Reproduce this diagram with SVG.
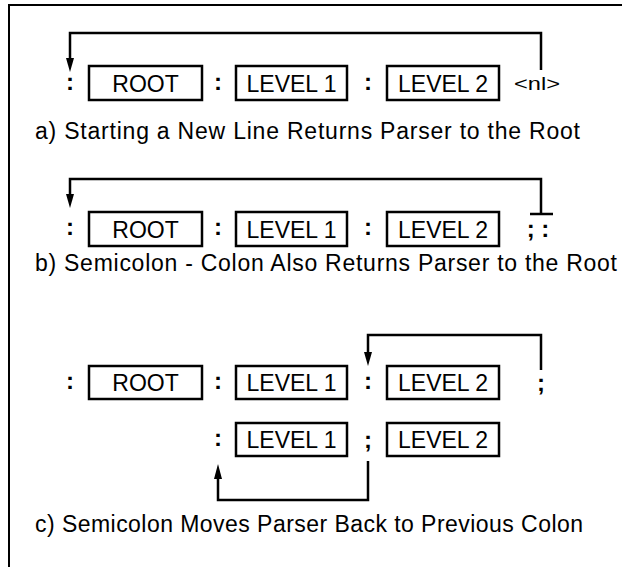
<svg xmlns="http://www.w3.org/2000/svg" width="622" height="567" viewBox="0 0 622 567">
<style>
.box{fill:#fff;stroke:#000;stroke-width:2.5}
.ln{fill:none;stroke:#000;stroke-width:2.5}
.lbl{font-family:"Liberation Sans",Arial,sans-serif;font-size:23px;text-anchor:middle;fill:#000}
.pn{font-family:"Liberation Sans",Arial,sans-serif;font-size:24px;font-weight:bold;text-anchor:middle;fill:#000}
.nl{font-family:"Liberation Sans",Arial,sans-serif;font-size:18px;text-anchor:middle;fill:#000}
.cap{font-family:"Liberation Sans",Arial,sans-serif;font-size:23px;fill:#000}
.ah{fill:#000}
</style>
<polyline class="ln" points="9,567 9,5 622,5" style="stroke-width:2"/>
<g id="connectors">
<path class="ln" d="M70,60 V33 H541 V70"/>
<polygon class="ah" points="66,58 74,58 70,72"/>
<path class="ln" d="M70,196 V179 H541 V214 M530,214 H553"/>
<polygon class="ah" points="66,194 74,194 70,208"/>
<path class="ln" d="M368,354 V335 H541 V370"/>
<polygon class="ah" points="364,352 372,352 368,366"/>
<path class="ln" d="M368,461 V500 H218 V477"/>
<polygon class="ah" points="214,479 222,479 218,464"/>
</g>
<g id="row-a">
<text class="pn" x="70" y="90">:</text>
<g id="a-root"><rect class="box" x="89" y="66" width="113" height="34"/><text class="lbl" x="145.5" y="91.5">ROOT</text></g>
<text class="pn" x="218" y="90">:</text>
<g id="a-level1"><rect class="box" x="236" y="66" width="111" height="34"/><text class="lbl" x="291.5" y="91.5">LEVEL 1</text></g>
<text class="pn" x="368" y="90">:</text>
<g id="a-level2"><rect class="box" x="387" y="66" width="112" height="34"/><text class="lbl" x="443" y="91.5">LEVEL 2</text></g>
<text class="nl" x="537" y="90" textLength="46" lengthAdjust="spacingAndGlyphs">&lt;nl&gt;</text>
<text class="cap" x="35" y="139" textLength="545" lengthAdjust="spacing">a) Starting a New Line Returns Parser to the Root</text>
</g>
<g id="row-b">
<text class="pn" x="70" y="235">:</text>
<g id="b-root"><rect class="box" x="89" y="212" width="113" height="34"/><text class="lbl" x="145.5" y="237.5">ROOT</text></g>
<text class="pn" x="218" y="235">:</text>
<g id="b-level1"><rect class="box" x="236" y="212" width="111" height="34"/><text class="lbl" x="291.5" y="237.5">LEVEL 1</text></g>
<text class="pn" x="368" y="235">:</text>
<g id="b-level2"><rect class="box" x="387" y="212" width="112" height="34"/><text class="lbl" x="443" y="237.5">LEVEL 2</text></g>
<text class="pn" x="538" y="237">; :</text>
<text class="cap" x="35" y="271" textLength="582" lengthAdjust="spacing">b) Semicolon - Colon Also Returns Parser to the Root</text>
</g>
<g id="row-c">
<text class="pn" x="70" y="389">:</text>
<g id="c-root"><rect class="box" x="89" y="366" width="113" height="33"/><text class="lbl" x="145.5" y="391">ROOT</text></g>
<text class="pn" x="218" y="389">:</text>
<g id="c-level1"><rect class="box" x="236" y="366" width="111" height="33"/><text class="lbl" x="291.5" y="391">LEVEL 1</text></g>
<text class="pn" x="368" y="389">:</text>
<g id="c-level2"><rect class="box" x="387" y="366" width="112" height="33"/><text class="lbl" x="443" y="391">LEVEL 2</text></g>
<text class="pn" x="541" y="391">;</text>
<text class="pn" x="218" y="446">:</text>
<g id="c2-level1"><rect class="box" x="236" y="423" width="111" height="33"/><text class="lbl" x="291.5" y="448">LEVEL 1</text></g>
<text class="pn" x="368" y="448">;</text>
<g id="c2-level2"><rect class="box" x="387" y="423" width="112" height="33"/><text class="lbl" x="443" y="448">LEVEL 2</text></g>
<text class="cap" x="35" y="532" textLength="548" lengthAdjust="spacing">c) Semicolon Moves Parser Back to Previous Colon</text>
</g>
</svg>
